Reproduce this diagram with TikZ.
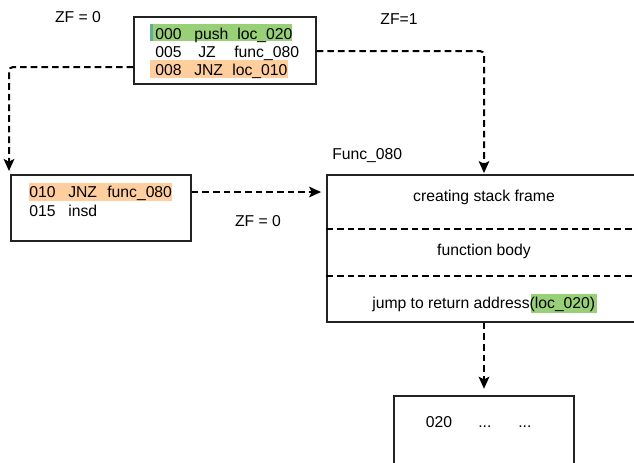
\documentclass[tikz,border=0pt]{standalone}
\usepackage{fontspec}
\setmainfont{Liberation Sans}
\usetikzlibrary{arrows.meta}
\definecolor{hlgreen}{HTML}{97D077}
\definecolor{hlorange}{HTML}{FFCE9F}
\definecolor{hlteal}{HTML}{67AB9F}
\definecolor{boxline}{HTML}{222222}
\tikzset{
  box/.style={draw=boxline, line width=0.9pt, rectangle, inner sep=0pt, fill=none},
  conn/.style={draw=black, line width=1.5pt, dash pattern=on 5pt off 3pt, rounded corners=3pt,
    -{Stealth[length=9pt, width=8pt, inset=2pt]}},
  sepline/.style={draw=black, line width=1.5pt, dash pattern=on 5pt off 3pt},
  txt/.style={inner sep=0pt, anchor=base west},
  ctxt/.style={inner sep=0pt, anchor=base},
}
\newcommand{\uu}{0.75pt}
\begin{document}
\begin{tikzpicture}[x=0.75pt, y=-0.75pt, font=\fontsize{11.8}{14}\selectfont]
\useasboundingbox (0,0) rectangle (634,462);
\clip (0,0) rectangle (634,462);

% highlights
\fill[hlgreen] (150,24) rectangle (292,41);
\fill[hlteal] (150,24) rectangle (153,41);
\fill[hlorange] (150,60) rectangle (288,78);
\fill[hlorange] (29,183) rectangle (172,201);
\fill[hlgreen] (531,294) rectangle (597,313);

% boxes
\node[box, minimum width=182*\uu, minimum height=67*\uu] (tb) at (225,50.5) {};
\node[box, minimum width=180*\uu, minimum height=66*\uu] (lb) at (101,208) {};
\node[box, minimum width=314*\uu, minimum height=147*\uu] (fb) at (484,248.5) {};
\node[box, minimum width=180*\uu, minimum height=80*\uu] (bb) at (484,436) {};

% top box text
\node[txt] (t1a) at (155,39) {000};
\node[txt] (t1b) at (194,39) {push};
\node[txt] (t1c) at (237,39) {loc\_020};
\node[txt] (t2a) at (155,57.5) {005};
\node[txt] (t2b) at (198,57.5) {JZ};
\node[txt] (t2c) at (234,57.5) {func\_080};
\node[txt] (t3a) at (155,75.3) {008};
\node[txt] (t3b) at (194,75.3) {JNZ};
\node[txt] (t3c) at (232,75.3) {loc\_010};

% left box text
\node[txt] (l1a) at (29,197.7) {010};
\node[txt] (l1b) at (68,197.7) {JNZ};
\node[txt] (l1c) at (107,197.7) {func\_080};
\node[txt] (l2a) at (29,216.7) {015};
\node[txt] (l2b) at (68,216.7) {insd};

% function box
\draw[sepline] (fb.west |- 0,229) -- (fb.east |- 0,229);
\draw[sepline] (fb.west |- 0,276) -- (fb.east |- 0,276);
\node[ctxt] (f1) at (484,201) {creating stack frame};
\node[ctxt] (f2) at (484,255) {function body};
\node[txt] (f3) at (372,308) {jump to return address(loc\_020)};

% bottom box text
\node[txt] (b1) at (425.5,427.3) {020};
\node[txt] (b2) at (478,427.3) {...};
\node[txt] (b3) at (518,427.3) {...};

% labels
\node[ctxt] (zf0a) at (78,22.8) {ZF = 0};
\node[ctxt] (zf1) at (399,24) {ZF=1};
\node[txt] (fname) at (332,159.3) {Func\_080};
\node[ctxt] (zf0b) at (258,226.7) {ZF = 0};

% connectors
\draw[conn, shorten >=3pt] (tb.west |- 0,67) -| (9,175);
\draw[conn, shorten >=1pt] (tb.east |- 0,51) -| (fb.north);
\draw[conn, shorten >=4pt] (lb.east |- 0,192) -- (fb.west |- 0,192);
\draw[conn, shorten >=5pt] (fb.south) -- (bb.north);
\end{tikzpicture}
\end{document}
